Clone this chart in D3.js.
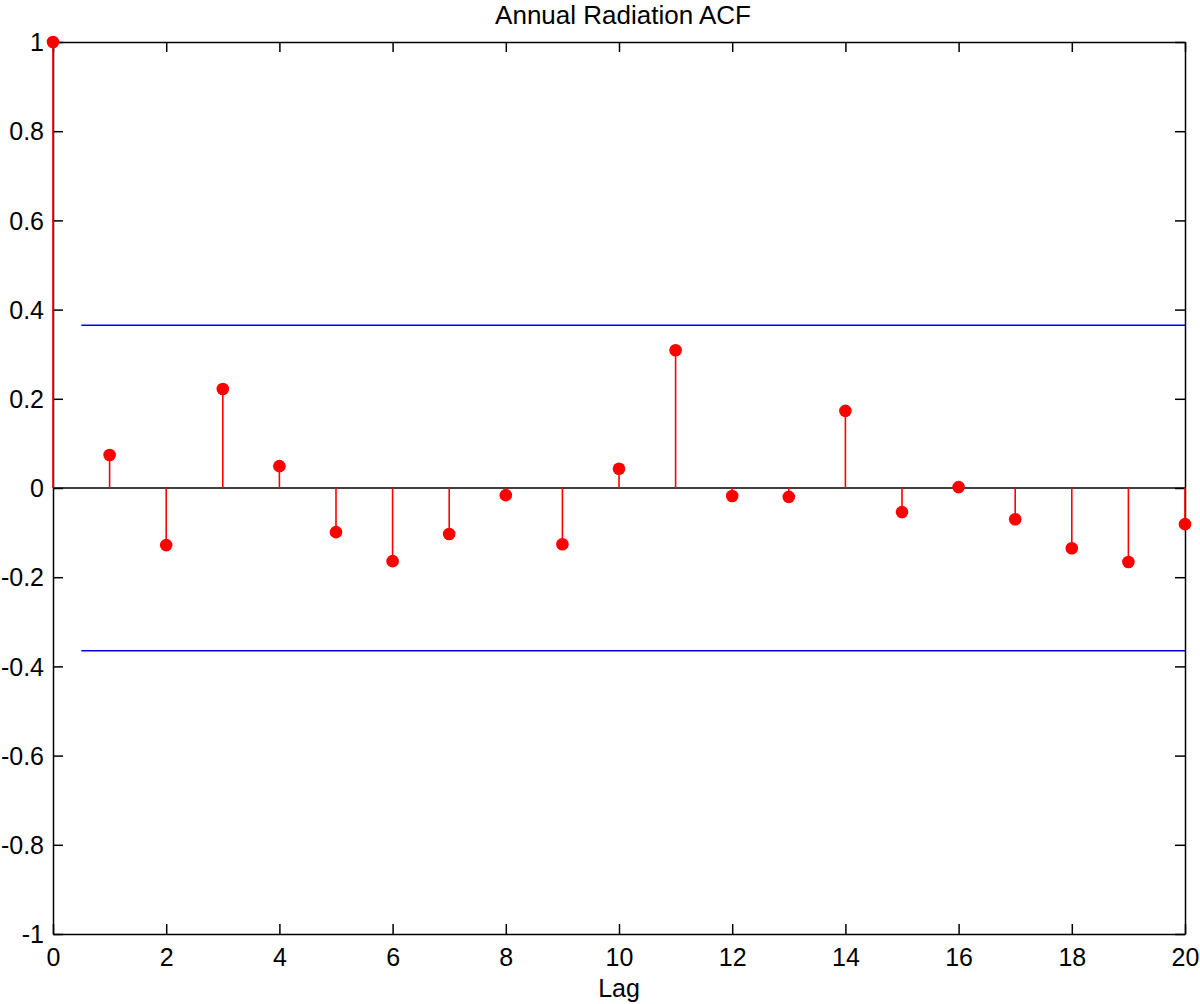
<!DOCTYPE html>
<html><head><meta charset="utf-8">
<script src="https://cdn.jsdelivr.net/npm/d3@7"></script>
<style>body{margin:0;background:#fff}svg{display:block}text{font-family:"Liberation Sans",Arial,Helvetica,sans-serif;fill:#000}</style>
</head><body><svg id="c" width="1200" height="1004"></svg>
<script>
const lags = [0,1,2,3,4,5,6,7,8,9,10,11,12,13,14,15,16,17,18,19,20];
const acf = [1,0.074,-0.128,0.222,0.049,-0.099,-0.164,-0.103,-0.016,-0.126,0.043,0.309,-0.018,-0.020,0.173,-0.054,0.002,-0.070,-0.135,-0.166,-0.081];
const bound = 0.365;
const boundRange = [0.5, 20];
const xTicks = [0,2,4,6,8,10,12,14,16,18,20];
const yTicks = [-1,-0.8,-0.6,-0.4,-0.2,0,0.2,0.4,0.6,0.8,1];
const title = "Annual Radiation ACF";
const xLabel = "Lag";

const svg = d3.select("#c");
const L=53, R=1185, T=42, B=934;
const x = d3.scaleLinear().domain([0,20]).range([L,R]);
const y = d3.scaleLinear().domain([-1,1]).range([B,T]);
const tl = 10;

// zero line
svg.append("line").attr("x1",x(0)).attr("x2",x(20)).attr("y1",y(0)).attr("y2",y(0)).attr("stroke","#000").attr("stroke-width",1.5);
// bounds
[bound,-bound].forEach(b=>{
  svg.append("line").attr("x1",x(boundRange[0])).attr("x2",x(boundRange[1])).attr("y1",y(b)).attr("y2",y(b)).attr("stroke","#0000ee").attr("stroke-width",1.5);
});

const fmt = d => d===0?"0":String(d);
const gb = svg.append("g").attr("transform",`translate(0,${B})`).call(d3.axisBottom(x).tickValues(xTicks).tickSizeInner(-tl).tickSizeOuter(0).tickPadding(14).tickFormat(fmt));
const gt = svg.append("g").attr("transform",`translate(0,${T})`).call(d3.axisTop(x).tickValues(xTicks).tickSizeInner(-tl).tickSizeOuter(0).tickFormat(""));
const gl = svg.append("g").attr("transform",`translate(${L},0)`).call(d3.axisLeft(y).tickValues(yTicks).tickSizeInner(-tl).tickSizeOuter(0).tickPadding(9).tickFormat(fmt));
const gr = svg.append("g").attr("transform",`translate(${R},0)`).call(d3.axisRight(y).tickValues(yTicks).tickSizeInner(-tl).tickSizeOuter(0).tickFormat(""));
[gb,gt,gl,gr].forEach(g=>{
  g.selectAll("path.domain").attr("stroke","#000").attr("stroke-width",1.5);
  g.selectAll(".tick line").attr("stroke","#000").attr("stroke-width",1.5);
  g.selectAll("text").attr("font-size",25).attr("font-family",'"Liberation Sans",Arial,sans-serif').attr("fill","#000");
});
gb.selectAll("text").attr("dy","0.71em");
gl.selectAll("text").attr("dy","0.35em");

const data = lags.map((l,i)=>({l,v:acf[i]}));
svg.append("g").selectAll("line").data(data).join("line")
  .attr("x1",d=>x(d.l)).attr("x2",d=>x(d.l)).attr("y1",y(0)).attr("y2",d=>y(d.v))
  .attr("stroke","#ff0000").attr("stroke-width",1.6);
svg.append("g").selectAll("circle").data(data).join("circle")
  .attr("cx",d=>x(d.l)).attr("cy",d=>y(d.v)).attr("r",6.3).attr("fill","#ff0000");

svg.append("text").attr("x",(L+R)/2+4).attr("y",24).attr("text-anchor","middle").attr("font-size",26).text(title);
svg.append("text").attr("x",(L+R)/2).attr("y",997).attr("text-anchor","middle").attr("font-size",25).text(xLabel);
</script></body></html>
